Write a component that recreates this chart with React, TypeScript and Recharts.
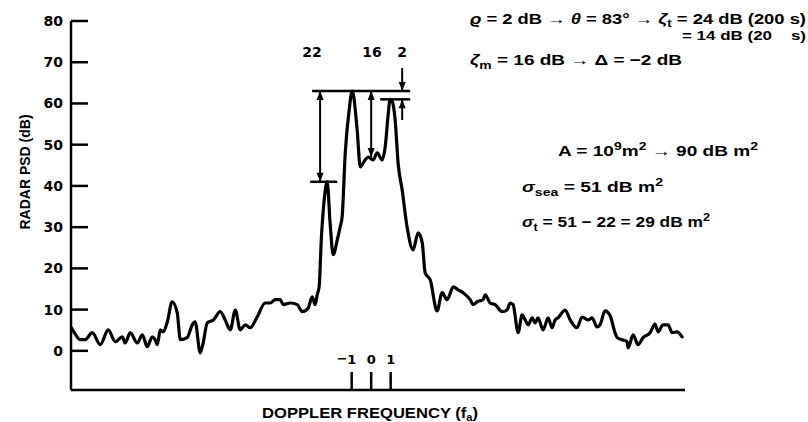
import React from 'react';
import { LineChart, Line, XAxis, YAxis, ReferenceLine, ReferenceDot } from 'recharts';

// Doppler frequency (units of f_a) and radar PSD (dB)
const freq = [
  -15.38, -15.23, -14.92, -14.67, -14.31, -13.9, -13.49, -13.13, -12.77, -12.62,
  -12.36, -12.0, -11.74, -11.49, -11.23, -11.08, -10.97, -10.82, -10.67, -10.46,
  -10.21, -9.95, -9.79, -9.44, -9.18, -9.03, -8.77, -8.62, -8.41, -8.1,
  -7.74, -7.49, -7.23, -6.97, -6.72, -6.46, -6.21, -5.85, -5.44, -5.18,
  -4.92, -4.67, -4.51, -4.15, -3.79, -3.54, -3.23, -3.03, -2.87, -2.77,
  -2.67, -2.56, -2.41, -2.26, -2.1, -1.95, -1.74, -1.59, -1.49, -1.33,
  -1.13, -0.97, -0.72, -0.56, -0.31, -0.15, 0.1, 0.31, 0.56, 0.72,
  0.87, 0.97, 1.08, 1.23, 1.38, 1.59, 1.85, 2.15, 2.41, 2.62,
  2.77, 3.03, 3.38, 3.64, 3.9, 4.21, 4.46, 4.72, 5.08, 5.23,
  5.44, 5.74, 5.85, 6.1, 6.36, 6.72, 6.97, 7.13, 7.28, 7.54,
  7.74, 7.9, 8.05, 8.26, 8.41, 8.56, 8.82, 9.08, 9.28, 9.44,
  9.59, 9.95, 10.21, 10.56, 10.82, 11.13, 11.33, 11.59, 11.74, 12.0,
  12.26, 12.51, 12.62, 12.87, 13.13, 13.18, 13.44, 13.69, 13.95, 14.31,
  14.56, 14.72, 14.97, 15.23, 15.44, 15.69, 15.95,
];
const psd = [
  5.6, 4.4, 2.7, 2.7, 4.4, 1.5, 5.1, 2.2, 3.4, 1.9,
  4.4, 1.9, 3.9, 1.0, 3.4, 2.7, 1.5, 5.1, 4.6, 7.0,
  11.9, 9.2, 2.7, 3.2, 6.3, 7.0, -0.5, 1.9, 6.8, 7.5,
  9.5, 7.5, 5.1, 9.9, 5.1, 6.3, 5.6, 8.2, 11.6, 11.6,
  12.4, 12.4, 11.2, 11.6, 11.2, 9.5, 10.4, 13.1, 11.2, 13.6,
  15.5, 26.9, 36.6, 41.0, 30.5, 23.3, 26.9, 30.1, 32.5, 48.0,
  58.4, 63.0, 53.6, 44.6, 46.3, 47.0, 46.3, 48.0, 46.3, 49.5,
  57.2, 61.0, 60.5, 56.0, 45.6, 39.0, 29.8, 24.5, 28.6, 26.2,
  18.9, 17.2, 9.7, 14.1, 12.4, 15.5, 14.8, 14.1, 12.4, 11.2,
  11.9, 12.4, 13.6, 11.6, 11.2, 9.5, 9.9, 11.6, 11.2, 4.4,
  8.7, 7.5, 6.3, 8.0, 6.8, 8.0, 5.1, 8.0, 5.6, 7.5,
  8.0, 9.9, 7.5, 5.6, 8.2, 7.5, 8.0, 5.8, 6.3, 9.7,
  8.5, 4.4, 3.2, 2.7, 2.2, 0.7, 3.9, 1.5, 3.2, 4.4,
  6.5, 4.6, 6.3, 6.3, 4.4, 4.6, 3.4,
];

const yTicks = [0, 10, 20, 30, 40, 50, 60, 70, 80];
const xTicks = [-1, 0, 1];

// annotation levels (dB) and positions (f_a)
const levelMain = 63;
const levelSecond = 61;
const levelLeft = 41;
const levelValley = 47;
const hLines = [
  { x1: -3.03, x2: 2.0, y: levelMain },
  { x1: 0.46, x2: 2.0, y: levelSecond },
  { x1: -3.13, x2: -1.74, y: levelLeft },
];
const vArrows = [
  { x: -2.62, y1: levelMain, y2: levelLeft, heads: ['up', 'down'] },
  { x: 0, y1: levelMain, y2: levelValley, heads: ['up', 'down'] },
  { x: 1.59, y1: 68.6, y2: levelMain, heads: ['', 'down'] },
  { x: 1.59, y1: levelSecond, y2: 56, heads: ['up', ''] },
];

const data = freq.map((f, i) => ({ f, psd: psd[i] }));

const FONT = '"Liberation Sans", Arial, Helvetica, sans-serif';
const NUMFONT = '"DejaVu Sans", "Liberation Sans", sans-serif';
const PLOT_LEFT = 71;
const PLOT_BOTTOM = 390;

const YTick = (props: any) => {
  const { y, payload } = props;
  return (
    <g>
      <line x1={PLOT_LEFT} x2={PLOT_LEFT + 17} y1={y} y2={y} stroke="#000" strokeWidth={2.5} />
      <text x={PLOT_LEFT - 8} y={y} textAnchor="end" dominantBaseline="central"
        fontFamily={NUMFONT} fontWeight="bold" fontSize={14} fill="#000">{payload.value}</text>
    </g>
  );
};

const XTick = (props: any) => {
  const { x, payload } = props;
  const v = payload.value;
  return (
    <g>
      <line x1={x} x2={x} y1={PLOT_BOTTOM} y2={PLOT_BOTTOM - 18} stroke="#000" strokeWidth={2.5} />
      <text x={x} y={364} textAnchor="middle" fontFamily={NUMFONT} fontWeight="bold" fontSize={13} fill="#000">{Math.abs(v)}</text>
      {v < 0 ? (
        <text x={x - 4} y={363} textAnchor="end" fontFamily={NUMFONT} fontWeight="bold" fontSize={13} fill="#000">−</text>
      ) : null}
    </g>
  );
};

const headShape = (dir: string) => (props: any) => {
  const { cx, cy } = props;
  if (cx == null || cy == null) return <g />;
  const s = dir === 'up' ? 1 : -1;
  const pts = `${cx},${cy} ${cx - 3.5},${cy + s * 9} ${cx + 3.5},${cy + s * 9}`;
  return <polygon points={pts} fill="#000" />;
};

export default function App() {
  const t = { fontFamily: FONT, fontWeight: 'bold' as const, fill: '#000' };
  const n = { fontFamily: NUMFONT, fontWeight: 'bold' as const, fill: '#000' };
  return (
    <div style={{ position: 'absolute', left: 0, top: 0, width: 808, height: 422, background: '#fff' }}>
      <LineChart width={808} height={422} data={data} margin={{ top: 21, right: 123, bottom: 0, left: 0 }}>
        <XAxis dataKey="f" type="number" domain={[-15.4, 16.1]} ticks={xTicks} allowDataOverflow
          height={32} axisLine={{ stroke: '#000', strokeWidth: 2.5 }} tickLine={false} tick={<XTick />} interval={0} />
        <YAxis type="number" domain={[-9.5, 80]} ticks={yTicks} allowDataOverflow width={71}
          axisLine={{ stroke: '#000', strokeWidth: 2.5 }} tickLine={false} tick={<YTick />} interval={0} />
        {hLines.map((h, i) => (
          <ReferenceLine key={'h' + i} segment={[{ x: h.x1, y: h.y }, { x: h.x2, y: h.y }]} stroke="#000" strokeWidth={2.5} />
        ))}
        {vArrows.map((a, i) => (
          <ReferenceLine key={'v' + i} segment={[{ x: a.x, y: a.y1 }, { x: a.x, y: a.y2 }]} stroke="#000" strokeWidth={2} />
        ))}
        {vArrows.map((a, i) => (
          a.heads[0] ? <ReferenceDot key={'ha' + i} x={a.x} y={a.y1} r={1} shape={headShape(a.heads[0])} /> : null
        ))}
        {vArrows.map((a, i) => (
          a.heads[1] ? <ReferenceDot key={'hb' + i} x={a.x} y={a.y2} r={1} shape={headShape(a.heads[1])} /> : null
        ))}
        <Line type="monotone" dataKey="psd" stroke="#000" strokeWidth={3.2} dot={false} isAnimationActive={false}
          strokeLinejoin="round" strokeLinecap="round" />
      </LineChart>
      <svg width={808} height={422} style={{ position: 'absolute', left: 0, top: 0, pointerEvents: 'none' }}>
        <text x={25} y={172} transform="rotate(-90 25 172)" textAnchor="middle" dominantBaseline="central" fontSize={14} {...t}>RADAR PSD (dB)</text>
        <text x={262} y={418} fontSize={15} {...t} textLength={216} lengthAdjust="spacingAndGlyphs">
          DOPPLER FREQUENCY (f<tspan fontSize={10} dy={3}>a</tspan><tspan dy={-3}>)</tspan>
        </text>
        <text x={312} y={57} textAnchor="middle" fontSize={14} {...n}>22</text>
        <text x={372} y={57} textAnchor="middle" fontSize={14} {...n}>16</text>
        <text x={402} y={57} textAnchor="middle" fontSize={14} {...n}>2</text>

        <text x={470} y={24} fontSize={15} {...t} textLength={336} lengthAdjust="spacingAndGlyphs">
          <tspan fontStyle="italic">ϱ</tspan> = 2 dB → <tspan fontStyle="italic">θ</tspan> = 83° → <tspan fontStyle="italic">ζ</tspan><tspan fontSize={11} dy={3}>t</tspan><tspan dy={-3}> = 24 dB (200 s)</tspan>
        </text>
        <text x={682} y={40} fontSize={13.5} {...t} style={{ whiteSpace: 'pre' }} textLength={124} lengthAdjust="spacingAndGlyphs">= 14 dB (20    s)</text>
        <text x={470} y={65} fontSize={15} {...t} textLength={212} lengthAdjust="spacingAndGlyphs">
          <tspan fontStyle="italic">ζ</tspan><tspan fontSize={11} dy={4}>m</tspan><tspan dy={-4}> = 16 dB → Δ = −2 dB</tspan>
        </text>

        <text x={558} y={156} fontSize={15} {...t} textLength={200} lengthAdjust="spacingAndGlyphs">
          A = 10<tspan fontSize={11} dy={-6}>9</tspan><tspan dy={6}>m</tspan><tspan fontSize={11} dy={-6}>2</tspan><tspan dy={6}> → 90 dB m</tspan><tspan fontSize={11} dy={-6}>2</tspan>
        </text>
        <text x={522} y={192} fontSize={15} {...t} textLength={141} lengthAdjust="spacingAndGlyphs">
          <tspan fontStyle="italic">σ</tspan><tspan fontSize={11} dy={4}>sea</tspan><tspan dy={-4}> = 51 dB m</tspan><tspan fontSize={11} dy={-6}>2</tspan>
        </text>
        <text x={522} y={227} fontSize={15} {...t} textLength={188} lengthAdjust="spacingAndGlyphs">
          <tspan fontStyle="italic">σ</tspan><tspan fontSize={11} dy={4}>t</tspan><tspan dy={-4}> = 51 − 22 = 29 dB m</tspan><tspan fontSize={11} dy={-6}>2</tspan>
        </text>
      </svg>
    </div>
  );
}
